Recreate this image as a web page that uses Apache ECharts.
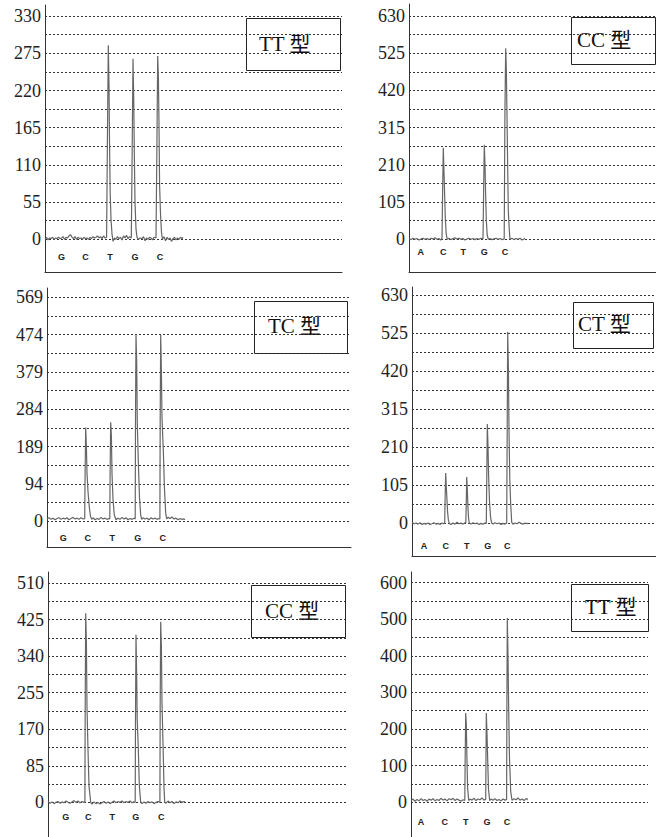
<!DOCTYPE html>
<html>
<head>
<meta charset="utf-8">
<script src="https://cdn.jsdelivr.net/npm/echarts@6/dist/echarts.min.js"></script>
<style>
html,body{margin:0;padding:0;background:#fff;}
#chart{width:656px;height:837px;}
</style>
</head>
<body>
<div id="chart"></div>
<script>
// ---------- DATA ----------
const genotypes = ['TT 型', 'CC 型', 'TC 型', 'CT 型', 'CC 型', 'TT 型'];

// dispensation order (base letters) and their scan positions
const bases1 = ['G', 'C', 'T', 'G', 'C'];
const bases2 = ['A', 'C', 'T', 'G', 'C'];
const basePos1 = [16.5, 40.5, 65, 90, 115];
const basePos2 = [11.7, 34.3, 54.3, 75.3, 96];
const basePos3 = [16.3, 40.7, 65.3, 90.7, 115.7];
const basePos4 = [12, 33.7, 54.7, 75.7, 95.3];
const basePos5 = [17.7, 40.3, 64.3, 87.7, 113.3];
const basePos6 = [10, 33.7, 54.7, 76, 96];

// y-axis tick labels and half-step grid values
const labels1 = [0, 55, 110, 165, 220, 275, 330];
const ticks1 = [0, 27.5, 55, 82.5, 110, 137.5, 165, 192.5, 220, 247.5, 275, 302.5, 330];
const labels2 = [0, 105, 210, 315, 420, 525, 630];
const ticks2 = [0, 52.5, 105, 157.5, 210, 262.5, 315, 367.5, 420, 472.5, 525, 577.5, 630];
const labels3 = [0, 94, 189, 284, 379, 474, 569];
const ticks3 = [0, 47, 94, 141.5, 189, 236.5, 284, 331.5, 379, 426.5, 474, 521.5, 569];
const labels4 = [0, 105, 210, 315, 420, 525, 630];
const ticks4 = [0, 52.5, 105, 157.5, 210, 262.5, 315, 367.5, 420, 472.5, 525, 577.5, 630];
const labels5 = [0, 85, 170, 255, 340, 425, 510];
const ticks5 = [0, 42.5, 85, 127.5, 170, 212.5, 255, 297.5, 340, 382.5, 425, 467.5, 510];
const labels6 = [0, 100, 200, 300, 400, 500, 600];
const ticks6 = [0, 50, 100, 150, 200, 250, 300, 350, 400, 450, 500, 550, 600];

// pyrogram traces: [scan position, signal]
const trace1 = [[0,0],[1.5,3],[3,-1],[4.5,2],[6,1],[7.5,3],[9,0],[10.5,2],[12,1],[13.5,3],[15,1],[16.5,2],[18,4],[19.5,0],[21,3],[22.5,2],[24,5],[25.5,7],[27,3],[28.5,1],[30,4],[31.5,0],[33,3],[34.5,1],[36,2],[37.5,0],[39,3],[40.5,1],[42,2],[43.5,0],[45,3],[46.5,1],[48,4],[49.5,2],[51,3],[52.5,5],[54,2],[55.5,4],[57,1],[58.5,5],[60,2],[61.6,3],
  [62.4,145],[63.3,287],[64,230],[64.5,145],[65.2,68],[66,30],[67,8],[68,-3],[69.5,2],[71,0],[72.5,4],[74,1],[75.5,3],[77,-1],[78.5,5],[80,2],[81.5,6],[83,1],[84.5,4],[86.3,2],
  [87.2,135],[88,267],[88.7,210],[89.3,130],[90,55],[91,15],[92,3],[93.5,0],[95,2],[97,1],[98.5,4],[100,-2],[101.5,2],[103,0],[104.5,3],[106,2],[107.5,-1],[109,3],[111,2],
  [111.9,135],[112.7,271],[113.4,240],[114,170],[114.6,80],[115.5,38],[116.5,10],[117.5,0],[119,4],[120.5,-2],[122,3],[123.5,0],[125,2],[126.5,-3],[128,1],[129.5,3],[131,-1],[132.5,2],[134,0],[135.5,3],[137,1],[138,3]];

const trace2 = [[0,2],[2,-1],[4,3],[6,0],[8,2],[10,-2],[12,1],[14,3],[16,0],[18,2],[20,-1],[22,3],[24,1],[26,4],[28,0],[30,2],[31.5,-2],[33,2],
  [33.6,130],[34.3,258],[35,190],[35.6,130],[36.3,60],[37.2,15],[38.3,0],[40,3],[42,-1],[44,2],[46,4],[48,1],[50,3],[52,0],[54,2],[56,-2],[58,1],[60,3],[62,0],[64,2],[66,-1],[68,2],[70,0],[72,3],[74,1],
  [74.6,130],[75.3,267],[76,209],[76.6,130],[77.3,55],[78.2,12],[79.3,0],[81,2],[83,-1],[85,1],[87,3],[89,0],[91,2],[93,-1],[95.2,1],
  [95.9,350],[96.7,539],[97.3,482],[98,350],[98.7,200],[99.3,82],[100.2,30],[101,0],[103,3],[105,-1],[107,2],[109,0],[111,3],[113,-2],[115,1],[116,2]];

const trace3 = [[0,5],[2,8],[4,4],[6,7],[8,3],[10,6],[12,8],[14,4],[16,7],[18,5],[20,8],[22,3],[24,6],[26,9],[28,5],[30,7],[32,4],[34,8],[36,5],[37.7,6],
  [38.1,121],[38.7,238],[39.4,189],[40,121],[41,75],[42.3,35],[43.5,12],[44.7,4],[46,8],[48,3],[50,6],[52,4],[54,9],[56,5],[58,7],[60,4],[62,6],[62.8,5],
  [63.1,120],[63.7,251],[64.4,216],[65,120],[66,55],[67.3,15],[69,3],[71,7],[73,4],[75,9],[77,5],[79,8],[81,3],[83,6],[85,4],[87,7],[88.2,5],
  [88.5,250],[89,476],[89.7,402],[90.3,250],[91.3,151],[92.5,60],[93.7,15],[94.7,4],[96,8],[98,5],[100,7],[102,3],[104,8],[106,5],[108,7],[110,4],[112,6],[112.9,5],
  [113.2,262],[113.7,474],[114.4,380],[115,262],[116.3,180],[117.5,80],[118.7,20],[119.7,5],[121,9],[123,6],[125,10],[127,5],[129,7],[131,3],[133,6],[135,4],[137,5],[138,3]];

const trace4 = [[0,2],[2,-2],[4,0],[6,-3],[8,1],[10,-4],[12,-1],[14,-3],[16,0],[18,-4],[20,-2],[22,1],[24,-3],[26,-1],[28,-4],[30,0],[31.5,-2],[32.7,0],
  [33.1,68],[33.7,138],[34.3,100],[34.9,68],[35.6,30],[36.4,8],[37.3,-1],[39,-4],[41,0],[43,-3],[45,2],[47,-2],[49,0],[51,-3],[53,1],[53.8,0],
  [54.2,45],[54.7,127],[55.3,95],[55.9,45],[56.6,12],[57.3,0],[59,-3],[61,1],[63,-2],[65,0],[67,-4],[69,-1],[71,-3],[73,0],[74.3,-1],
  [74.8,132],[75.3,273],[76,215],[76.6,132],[77.5,60],[78.6,15],[79.7,0],[81,-3],[83,1],[85,-2],[87,0],[89,-4],[91,-1],[93,-3],[94.7,0],
  [95.2,256],[95.7,528],[96.4,426],[97,256],[97.8,120],[98.6,58],[99.7,2],[101,-3],[103,0],[105,-2],[107,2],[109,-1],[111,-3],[113,0],[115,-2],[116,0]];

const trace5 = [[0,2],[2,-2],[4,1],[6,-3],[8,0],[10,2],[12,-2],[14,1],[16,-1],[18,3],[20,0],[22,-2],[24,1],[26,4],[28,0],[30,3],[32,-1],[34,2],[36,0],[36.9,1],
  [37.2,221],[37.7,440],[38.4,373],[39,221],[40,122],[41,38],[42.7,0],[44,-4],[46,1],[48,-3],[50,0],[52,-4],[54,-1],[56,2],[58,-2],[60,1],[62,-3],[64,0],[66,3],[68,-1],[70,2],[72,0],[74,3],[76,-1],[78,2],[80,0],[82,3],[84,-1],[86,1],[87.2,0],
  [87.5,194],[88,390],[88.7,289],[89.2,194],[90.3,126],[91.3,40],[92.7,0],[94,-3],[96,1],[98,-2],[100,2],[102,-1],[104,1],[106,-3],[108,0],[110,2],[111.9,0],
  [112.2,232],[112.7,420],[113.4,362],[114,232],[115.3,107],[116,35],[116.7,0],[118,-2],[120,3],[122,-1],[124,2],[126,-3],[128,1],[130,-1],[132,3],[134,0],[136,2],[137,1]];

const trace6 = [[0,4],[2,9],[4,3],[6,8],[8,4],[10,10],[12,5],[14,8],[16,3],[18,9],[20,6],[22,10],[24,4],[26,8],[28,5],[30,11],[32,6],[34,9],[36,4],[38,10],[40,7],[42,11],[44,5],[46,9],[48,6],[50,3],[52,7],[53.8,5],
  [54.2,125],[54.7,244],[55.3,214],[55.9,125],[56.6,40],[57.7,5],[59,9],[61,6],[63,11],[65,5],[67,9],[69,7],[71,12],[73,6],[74.7,8],
  [75,125],[75.3,244],[76,188],[76.6,125],[77.5,35],[78.7,5],[80,9],[82,6],[84,10],[86,5],[88,8],[90,4],[92,9],[94,6],[95.6,8],
  [95.9,268],[96.3,503],[97,402],[97.6,268],[98.5,120],[99.7,30],[101,6],[103,10],[105,7],[107,12],[109,6],[111,9],[113,5],[115,10],[117,8]];

// ---------- LAYOUT (presentation only) ----------
const panels = [
  {trace: trace1, bases: bases1, pos: basePos1, ticks: ticks1, labels: labels1,
   grid: {left: 45, top: 5, width: 297, height: 267}, ymin: -48.3, ymax: 346.4, bottomLine: true, letterOffset: -32.7, letterMargin: 13,
   box: {x: 246, y: 18, w: 94, h: 52, tx: 259, ty: 44}},
  {trace: trace2, bases: bases2, pos: basePos2, ticks: ticks2, labels: labels2,
   grid: {left: 409, top: 4, width: 247, height: 268}, ymin: -92.4, ymax: 664, bottomLine: true, letterOffset: -32.7, letterMargin: 8.5,
   box: {x: 571, y: 17, w: 84, h: 47, tx: 577, ty: 40}},
  {trace: trace3, bases: bases1, pos: basePos3, ticks: ticks3, labels: labels3,
   grid: {left: 47, top: 288, width: 304, height: 259}, ymin: -66.4, ymax: 593, bottomLine: true, letterOffset: -26.1, letterMargin: 12.8,
   box: {x: 254, y: 301, w: 93, h: 52, tx: 268, ty: 326}},
  {trace: trace4, bases: bases2, pos: basePos4, ticks: ticks4, labels: labels4,
   grid: {left: 412, top: 287, width: 244, height: 269}, ymin: -91, ymax: 651.5, bottomLine: true, letterOffset: -33, letterMargin: 18.5,
   box: {x: 573, y: 302, w: 80, h: 46, tx: 578, ty: 324}},
  {trace: trace5, bases: bases1, pos: basePos5, ticks: ticks5, labels: labels5,
   grid: {left: 48, top: 572, width: 299, height: 270}, ymin: -80.6, ymax: 535.8, bottomLine: false, letterOffset: -35.3, letterMargin: 11,
   box: {x: 251, y: 585, w: 94, h: 52, tx: 265, ty: 611}},
  {trace: trace6, bases: bases2, pos: basePos6, ticks: ticks6, labels: labels6,
   grid: {left: 411, top: 572, width: 237, height: 270}, ymin: -94.6, ymax: 628.7, bottomLine: false, letterOffset: -35.3, letterMargin: 16,
   box: {x: 571, y: 584, w: 77, h: 47, tx: 585, ty: 607}}
];

const SERIF = '"Liberation Serif", "Times New Roman", "Noto Sans CJK SC", serif';

const option = {
  animation: false,
  backgroundColor: '#fff',
  grid: [], xAxis: [], yAxis: [], series: [], graphic: []
};

panels.forEach(function (p, i) {
  option.grid.push({left: p.grid.left, top: p.grid.top, width: p.grid.width, height: p.grid.height, containLabel: false});
  const xmax = p.grid.width;
  // frame (bottom) axis
  option.xAxis.push({
    gridIndex: i, type: 'value', min: 0, max: xmax, position: 'bottom',
    axisLine: {show: p.bottomLine, onZero: false, lineStyle: {color: '#333', width: 1}},
    axisTick: {show: false}, axisLabel: {show: false}, splitLine: {show: false}
  });
  // base letters axis, shifted up to the zero line
  option.xAxis.push({
    gridIndex: i, type: 'value', min: 0, max: xmax, position: 'bottom', offset: p.letterOffset,
    axisLine: {show: false, onZero: false},
    axisTick: {show: false},
    splitLine: {show: false},
    axisLabel: {
      show: true, customValues: p.pos, margin: p.letterMargin,
      fontSize: 9, fontWeight: 'bold', color: '#222',
      fontFamily: '"Liberation Sans", Arial, sans-serif',
      formatter: function (v) {
        let best = 0, bd = Infinity;
        p.pos.forEach(function (q, k) { const d = Math.abs(q - v); if (d < bd) { bd = d; best = k; } });
        return p.bases[best];
      }
    }
  });
  option.yAxis.push({
    gridIndex: i, type: 'value', min: p.ymin, max: p.ymax, position: 'left',
    axisLine: {show: true, onZero: false, lineStyle: {color: '#333', width: 1}},
    axisTick: {show: false, customValues: p.ticks},
    axisLabel: {show: true, customValues: p.labels, margin: 4, fontSize: 18, color: '#222', fontFamily: SERIF},
    splitLine: {show: true, lineStyle: {type: [2, 2], color: '#333', width: 1}}
  });
  option.series.push({
    type: 'line', xAxisIndex: 2 * i, yAxisIndex: i, data: p.trace,
    showSymbol: false, symbol: 'none', smooth: false,
    lineStyle: {color: '#666', width: 1.2}, z: 3
  });
  option.graphic.push({
    type: 'group', z: 100,
    children: [
      {type: 'rect', shape: {x: p.box.x + 0.5, y: p.box.y + 0.5, width: p.box.w, height: p.box.h},
       style: {fill: '#fff', stroke: '#222', lineWidth: 1}},
      {type: 'text', x: p.box.tx, y: p.box.ty,
       style: {text: genotypes[i], fill: '#111', font: '21px ' + SERIF, verticalAlign: 'middle', align: 'left'}}
    ]
  });
});

const chart = echarts.init(document.getElementById('chart'), null, {renderer: 'svg'});
chart.setOption(option);
</script>
</body>
</html>
